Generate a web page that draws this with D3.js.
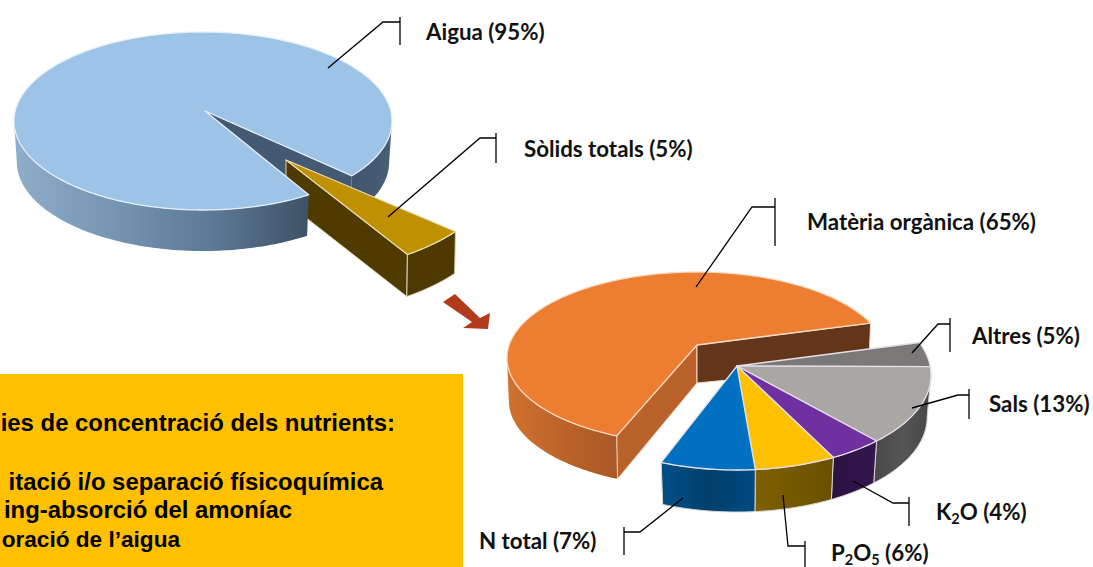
<!DOCTYPE html>
<html>
<head>
<meta charset="utf-8">
<style>
    html, body { margin: 0; padding: 0; background: #fff; overflow: hidden; }
    svg { display: block; }
    .label { font-family: Lato, sans-serif; font-weight: 700; font-size: 22.3px; fill: #111; }
    .box-text { font-family: "Liberation Sans", Arial, sans-serif; font-weight: 700; fill: #000; text-anchor: end; }
    .leader { fill: none; stroke: #000; stroke-width: 1.3; }
</style>
<script src="https://cdn.jsdelivr.net/npm/d3@7"></script>
</head>
<body>
<svg id="chart" width="1093" height="567"></svg>
<script>
// composition of the slurry
const wasteLabels = ["Aigua (95%)", "Sòlids totals (5%)"];
const wasteValues = [95, 5];

// composition of the solids, clockwise from the big slice
const solidsLabels = ["Matèria orgànica (65%)", "Altres (5%)", "Sals (13%)", "K|2|O (4%)", "P|2|O|5| (6%)", "N total (7%)"];
const solidsValues = [65, 5, 13, 4, 6, 7];

// the box runs off the left of the picture, only this much of it shows
const boxLines = [
    "ies de concentració dels nutrients:",
    "itació i/o separació físicoquímica",
    "ing-absorció del amoníac",
    "oració de l’aigua"
];

let canvas = d3.select("#chart");
let defs = canvas.append("defs");
let line = d3.line();
let closed = d3.line().curve(d3.curveLinearClosed);

// the pies are tilted, so equal percentages don't take equal angles on screen
let wasteAngle = d3.scaleLinear().domain([0, 95, 100]).range([146, 488, 506]);
let orangeAngle = d3.scaleLinear().domain([0, 65]).range([205, 426]);
let smallAngle = d3.scaleLinear().domain([65, 70, 83, 100]).range([70, 85, 134, 203]);

function rim(e, deg, drop) {
    let a = deg * Math.PI / 180;
    let k = drop ? e.shrink : 1;
    return [e.cx + e.rx * k * Math.sin(a), e.cy + (drop || 0) - e.ry * Math.cos(a)];
}

function rimPoints(e, a0, a1, drop) {
    let n = Math.max(2, Math.ceil(Math.abs(a1 - a0)));
    return d3.range(n + 1).map(i => rim(e, a0 + (a1 - a0) * i / n, drop));
}

function topFace(e, a0, a1, fill, stroke) {
    canvas.append("path")
        .attr("d", closed([e.apex, ...rimPoints(e, a0, a1)]))
        .attr("fill", fill)
        .attr("stroke", stroke)
        .attr("stroke-width", 1.3)
        .attr("stroke-linejoin", "round");
}

function sideFace(e, a0, a1, fill, stroke) {
    canvas.append("path")
        .attr("d", closed([...rimPoints(e, a0, a1), ...rimPoints(e, a1, a0, e.depth)]))
        .attr("fill", fill)
        .attr("stroke", stroke)
        .attr("stroke-width", 1);
}

// cut face between the apex and a point of the rim
function wall(e, deg, fill, stroke) {
    let r = rim(e, deg);
    let b = rim(e, deg, e.depth);
    canvas.append("path")
        .attr("d", closed([e.apex, r, b, [e.apex[0], e.apex[1] + e.apexDepth]]))
        .attr("fill", fill)
        .attr("stroke", stroke)
        .attr("stroke-width", 1);
}

function gradient(id, x0, x1, colors) {
    let g = defs.append("linearGradient")
        .attr("id", id)
        .attr("gradientUnits", "userSpaceOnUse")
        .attr("x1", x0).attr("x2", x1)
        .attr("y1", 0).attr("y2", 0);
    colors.forEach((c, i) => {
        g.append("stop").attr("offset", i / (colors.length - 1)).attr("stop-color", c);
    });
    return `url(#${id})`;
}

// ---- first pie ----
let waterPie = { cx: 203, cy: 121, rx: 189, ry: 89, apex: [205, 111], depth: 41, apexDepth: 41, shrink: 0.985 };
let solidSlice = { cx: 290, cy: 165, rx: 210, ry: 108, apex: [286, 160], depth: 42, apexDepth: 42, shrink: 0.995 };

let wasteCum = Array.from(d3.cumsum(wasteValues));
let waterStart = wasteAngle(0);
let waterEnd = wasteAngle(wasteCum[0]);
let solidEnd = wasteAngle(wasteCum[1]);

sideFace(waterPie, 450, waterEnd, gradient("waterRight", 355, 392, ["#41566d", "#4a5f76"]), "none");
wall(waterPie, waterEnd, "#445a72", "none");

// gold slice sits behind the water's top and front
wall(solidSlice, solidEnd - 360, "#4f3a00", "#d9d2b8");
sideFace(solidSlice, waterEnd - 360, solidEnd - 360, "#4e3900", "#d9d2b8");
topFace(solidSlice, waterEnd - 360, solidEnd - 360, "#bf9000", "#e9dcb0");

sideFace(waterPie, waterStart, 270, gradient("waterFront", 16, 306, ["#8fadc9", "#7595b3", "#5d7a96", "#3f5368"]), "none");
topFace(waterPie, waterStart, waterEnd, "#9dc3e6", "#e6eff8");

// ---- second pie ----
let orangePie = { cx: 697, cy: 358, rx: 190, ry: 86, apex: [697, 345], depth: 43, apexDepth: 38, shrink: 0.99 };
let smallPie = { cx: 737, cy: 375, rx: 194, ry: 95, apex: [737, 366], depth: 42, apexDepth: 0, shrink: 0.98 };

let solidsCum = [0, ...d3.cumsum(solidsValues)];

sideFace(orangePie, orangeAngle(0), 270, gradient("orangeFront", 508, 619, ["#d0722f", "#bb6329", "#a95826"]), "none");
wall(orangePie, orangeAngle(0), "#b9622a", "#f3d9c4");
wall(orangePie, orangeAngle(65) - 360, "#63351a", "#f3d9c4");
topFace(orangePie, orangeAngle(0), orangeAngle(65), "#ed7d31", "#f6dcc8");

let smallStyle = [
    null,
    { top: "#7b7978" },
    { top: "#a9a6a4", side: ["#4b4949", "#565555", "#474646"] },
    { top: "#7030a0", side: ["#2c1142", "#341650"] },
    { top: "#ffc000", side: ["#7f6000", "#695000"] },
    { top: "#0070c0", side: ["#004f88", "#003f6c", "#004a80"] }
];

solidsValues.forEach((v, i) => {
    if (i === 0) return;
    let a0 = smallAngle(solidsCum[i]);
    let a1 = smallAngle(solidsCum[i + 1]);
    let st = smallStyle[i];
    let from = Math.max(a0, 90);
    if (st.side && a1 > from) {
        let x0 = rim(smallPie, a1)[0];
        let x1 = rim(smallPie, from)[0];
        sideFace(smallPie, from, a1, gradient(`smallSide${i}`, x0, x1, st.side), "#d9d4cf");
    }
});
solidsValues.forEach((v, i) => {
    if (i === 0) return;
    topFace(smallPie, smallAngle(solidsCum[i]), smallAngle(solidsCum[i + 1]), smallStyle[i].top, "#e4dfe8");
});

// ---- arrow between the pies ----
canvas.append("path")
    .attr("d", closed([[443, 302], [455, 294], [480, 318], [490, 313], [488, 329], [463, 328], [472, 322]]))
    .attr("fill", "#b03a1a");

// ---- box ----
canvas.append("rect")
    .attr("x", 0).attr("y", 374)
    .attr("width", 463).attr("height", 193)
    .attr("fill", "#ffc000");

let boxEnds = [395, 383, 292, 180];
let boxBases = [431, 490, 518, 547];
let boxSizes = [23.9, 23.9, 23.9, 22.6];
canvas.selectAll(".box-text")
    .data(boxLines)
    .enter()
    .append("text")
    .attr("class", "box-text")
    .attr("x", (d, i) => boxEnds[i])
    .attr("y", (d, i) => boxBases[i])
    .attr("font-size", (d, i) => boxSizes[i])
    .text(d => d);

// ---- labels with their leader lines ----
let wasteCallouts = [
    { x: 426, y: 40, path: [[328, 68], [383, 22], [400, 22]], tick: [400, 17, 45] },
    { x: 524, y: 157, path: [[388, 217], [480, 138], [496, 138]], tick: [496, 133, 163] }
];
let solidsCallouts = [
    { x: 807, y: 230, path: [[696, 287], [752, 207], [775, 207]], tick: [775, 198, 246] },
    { x: 972, y: 344, path: [[912, 353], [938, 324], [950, 324]], tick: [950, 318, 352] },
    { x: 989, y: 412, path: [[912, 408], [958, 395], [969, 395]], tick: [969, 389, 419] },
    { x: 936, y: 520, path: [[853, 481], [893, 503], [909, 503]], tick: [909, 497, 526] },
    { x: 831, y: 561, path: [[783, 495], [788, 546], [805, 546]], tick: [805, 541, 567] },
    { x: 479, y: 549, path: [[683, 498], [640, 532], [624, 532]], tick: [624, 527, 555] }
];

function callout(label, c) {
    canvas.append("path").attr("class", "leader").attr("d", line(c.path));
    canvas.append("path").attr("class", "leader")
        .attr("d", line([[c.tick[0], c.tick[1]], [c.tick[0], c.tick[2]]]));

    let t = canvas.append("text").attr("class", "label").attr("x", c.x).attr("y", c.y);
    // "|" marks subscripts: odd parts go lower and smaller
    label.split("|").forEach((part, i) => {
        let s = t.append("tspan").text(part);
        if (i % 2 === 1) {
            s.attr("font-size", 14.5).attr("dy", 4);
        } else if (i > 0) {
            s.attr("dy", -4);
        }
    });
}

wasteLabels.forEach((d, i) => callout(d, wasteCallouts[i]));
solidsLabels.forEach((d, i) => callout(d, solidsCallouts[i]));
</script>
</body>
</html>
